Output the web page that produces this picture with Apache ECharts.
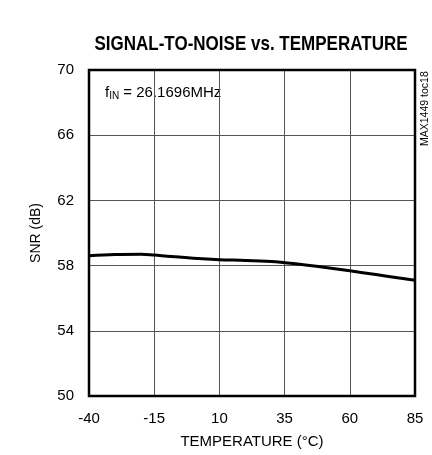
<!DOCTYPE html>
<html><head><meta charset="utf-8">
<script src="https://cdn.jsdelivr.net/npm/echarts@6/dist/echarts.min.js"></script>
<style>html,body{margin:0;padding:0;background:#fff}#c{width:432px;height:455px}</style>
</head><body><div id="c"></div>
<script>
const temps = [-40,-30,-20,-15,-10,0,10,20,30,35,40,50,60,70,85];
const snr = [58.6,58.68,58.7,58.65,58.58,58.45,58.36,58.32,58.25,58.18,58.1,57.9,57.68,57.45,57.1];
const xTicks = [-40,-15,10,35,60,85];
const yTicks = [50,54,58,62,66,70];
const FONT = '"Liberation Sans Narrow","Arial Narrow","Liberation Sans",sans-serif';
const chart = echarts.init(document.getElementById('c'));
chart.setOption({
  animation:false,
  grid:{left:89,top:70,width:326,height:326},
  xAxis:{type:'value',min:-40,max:85,interval:25,
    name:'TEMPERATURE (°C)',nameLocation:'middle',nameGap:38,
    nameTextStyle:{fontFamily:FONT,fontSize:15,color:'#000'},
    axisLine:{show:false},axisTick:{show:false},
    axisLabel:{fontFamily:FONT,fontSize:15,color:'#000',margin:15,
      formatter:v=>xTicks.includes(v)?String(v):''},
    splitLine:{lineStyle:{color:'#555',width:1}}},
  yAxis:{type:'value',min:50,max:70,interval:4,
    name:'SNR (dB)',nameLocation:'middle',nameGap:46,
    nameTextStyle:{fontFamily:FONT,fontSize:14,color:'#000'},
    axisLine:{show:false},axisTick:{show:false},
    axisLabel:{fontFamily:FONT,fontSize:15,color:'#000',margin:15,
      formatter:v=>yTicks.includes(v)?String(v):''},
    splitLine:{lineStyle:{color:'#555',width:1}}},
  graphic:[
    {type:'text',x:251,y:44,scaleX:0.81,style:{text:'SIGNAL-TO-NOISE vs. TEMPERATURE',
      fontFamily:FONT,fontWeight:'bold',fontSize:21,fill:'#000',textAlign:'center',textVerticalAlign:'middle'}},
    {type:'rect',shape:{x:89,y:70,width:326,height:326},style:{fill:'none',stroke:'#000',lineWidth:2.5},z:100},
    {type:'text',x:105,y:84,style:{text:'{a|f}{s|IN}{a| = 26.1696MHz}',
      rich:{a:{fontFamily:FONT,fontSize:15,color:'#000'},s:{fontFamily:FONT,fontSize:10,color:'#000',verticalAlign:'bottom',padding:[7,0,0,0]}}}},
    {type:'text',x:420,y:146,rotation:Math.PI/2,style:{text:'MAX1449 toc18',fontFamily:FONT,fontSize:10.5,fill:'#000'}}
  ],
  series:[{type:'line',data:temps.map((t,i)=>[t,snr[i]]),smooth:0.4,symbol:'none',
    lineStyle:{color:'#000',width:3}}]
});
</script></body></html>
